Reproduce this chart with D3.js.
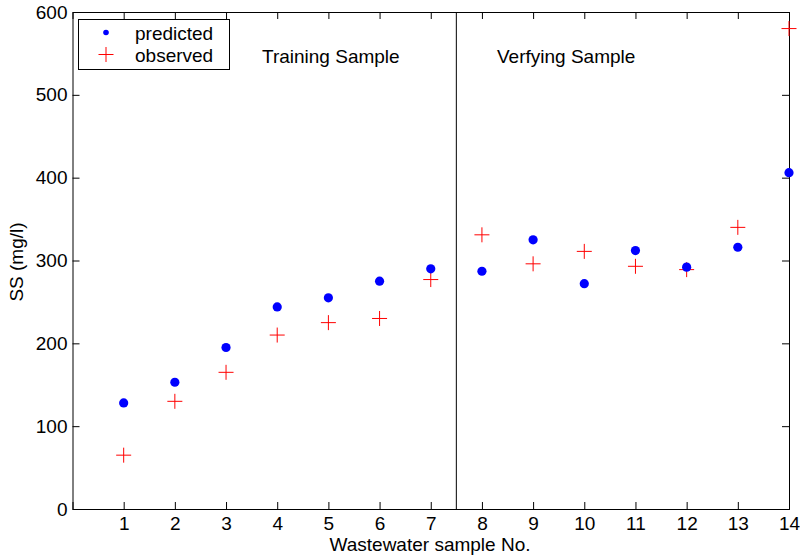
<!DOCTYPE html>
<html>
<head>
<meta charset="utf-8">
<script src="https://cdn.jsdelivr.net/npm/d3@7"></script>
<style>
  body { margin: 0; background: #fff; }
  text { font-family: "Liberation Sans", Arial, sans-serif; }
</style>
</head>
<body>
<div id="graph"></div>
<script>
var samples = [1, 2, 3, 4, 5, 6, 7, 8, 9, 10, 11, 12, 13, 14]
var predicted = [128, 153, 195, 244, 255, 275, 290, 287, 325, 272, 312, 292, 316, 406]
var observed = [65, 130, 165, 210, 225, 230, 277, 331, 296, 311, 293, 289, 340, 580]
var xTicks = [1, 2, 3, 4, 5, 6, 7, 8, 9, 10, 11, 12, 13, 14]
var yTicks = [0, 100, 200, 300, 400, 500, 600]
var splitAt = 7.5

var width = 800, height = 560
var margin = {left: 72.5, right: 11, top: 12, bottom: 51}
var fs = '19px'

var svg = d3.select('#graph').append('svg')
    .attr('width', width)
    .attr('height', height)

var x = d3.scaleLinear().domain([0, 14]).range([margin.left, width - margin.right])
var y = d3.scaleLinear().domain([0, 600]).range([height - margin.bottom, margin.top])

// box + inward ticks, matlab style
var tk = 7
svg.append('g')
    .attr('transform', 'translate(0,' + y(0) + ')')
    .call(d3.axisBottom(x).tickValues(xTicks).tickSize(-tk).tickPadding(8))
svg.append('g')
    .attr('transform', 'translate(0,' + y(600) + ')')
    .call(d3.axisTop(x).tickValues(xTicks).tickSize(-tk).tickFormat(''))
svg.append('g')
    .attr('transform', 'translate(' + x(0) + ',0)')
    .call(d3.axisLeft(y).tickValues(yTicks).tickSize(-tk).tickPadding(5))
svg.append('g')
    .attr('transform', 'translate(' + x(14) + ',0)')
    .call(d3.axisRight(y).tickValues(yTicks).tickSize(-tk).tickFormat(''))

svg.selectAll('.domain').attr('stroke', '#000')
svg.selectAll('.tick line').attr('stroke', '#000')
svg.selectAll('.tick text')
    .style('font-size', fs)
    .attr('fill', '#000')
    .style('font-family', '"Liberation Sans", Arial, sans-serif')

// divider between training and verifying
svg.append('line')
    .attr('x1', x(splitAt)).attr('x2', x(splitAt))
    .attr('y1', y(0)).attr('y2', y(600))
    .attr('stroke', '#000')

svg.append('text')
    .attr('x', 262).attr('y', 63)
    .style('font-size', fs)
    .text('Training Sample')
svg.append('text')
    .attr('x', 497).attr('y', 63)
    .style('font-size', fs)
    .text('Verfying Sample')

// axis titles
svg.append('text')
    .attr('x', 430).attr('y', 551)
    .attr('text-anchor', 'middle')
    .style('font-size', fs)
    .text('Wastewater sample No.')
svg.append('text')
    .attr('transform', 'translate(23,' + 262 + ') rotate(-90)')
    .attr('text-anchor', 'middle')
    .style('font-size', fs)
    .text('SS (mg/l)')

// points
var cs = 7.5
svg.append('g').selectAll('path')
    .data(observed)
    .enter()
    .append('path')
    .attr('d', function(d, i){
      var px = x(samples[i]), py = y(d)
      return 'M' + (px - cs) + ',' + py + 'H' + (px + cs) + 'M' + px + ',' + (py - cs) + 'V' + (py + cs)
    })
    .attr('stroke', '#ff0000')
    .attr('stroke-width', 1)
    .attr('fill', 'none')

svg.append('g').selectAll('circle')
    .data(predicted)
    .enter()
    .append('circle')
    .attr('cx', function(d, i){ return x(samples[i]) })
    .attr('cy', function(d){ return y(d) })
    .attr('r', 4.6)
    .attr('fill', '#0000ff')

// legend
var lg = svg.append('g')
lg.append('rect')
    .attr('x', 78.5).attr('y', 19.5).attr('width', 151).attr('height', 50)
    .attr('fill', '#fff').attr('stroke', '#000')
lg.append('circle').attr('cx', 106).attr('cy', 32.5).attr('r', 2.8).attr('fill', '#0000ff')
lg.append('path')
    .attr('d', 'M' + (106 - cs) + ',54.5H' + (106 + cs) + 'M106,' + (54.5 - cs) + 'V' + (54.5 + cs))
    .attr('stroke', '#ff0000').attr('fill', 'none')
lg.append('text').attr('x', 135).attr('y', 40).style('font-size', fs).text('predicted')
lg.append('text').attr('x', 135).attr('y', 61.5).style('font-size', fs).text('observed')
</script>
</body>
</html>
